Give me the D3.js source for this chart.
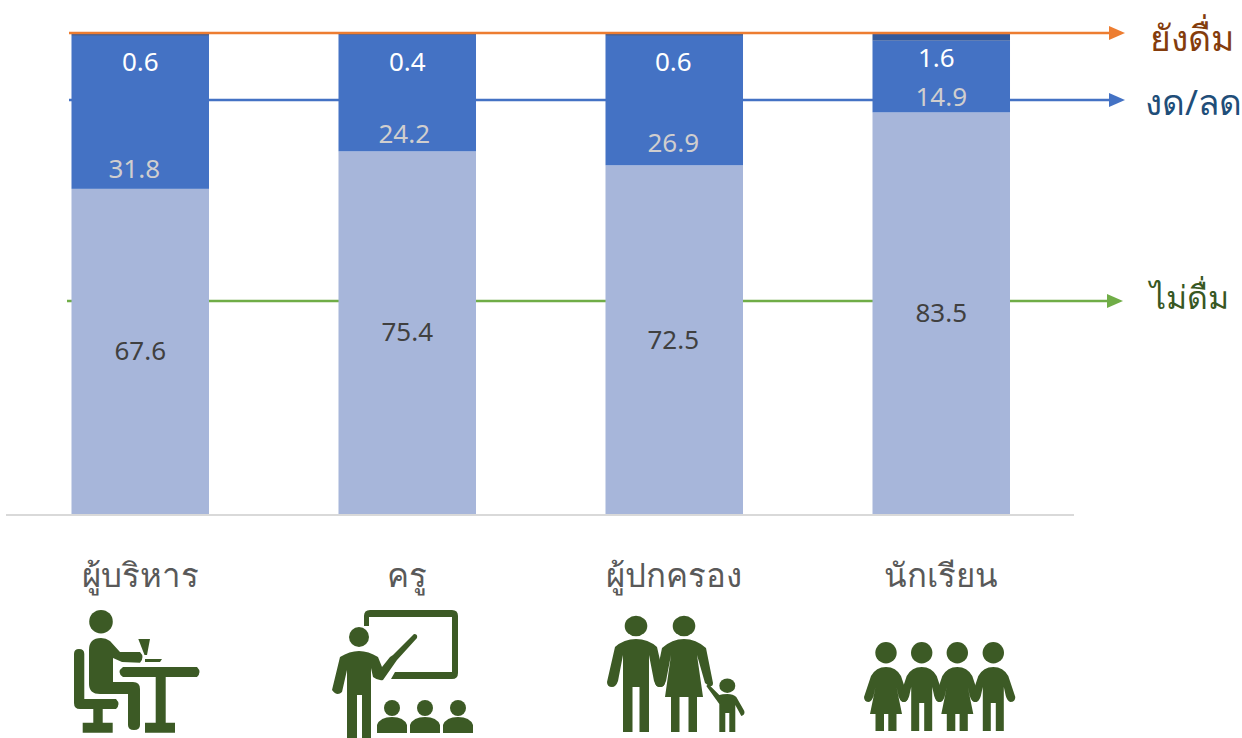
<!DOCTYPE html>
<html>
<head>
<meta charset="utf-8">
<script src="https://cdn.jsdelivr.net/npm/d3@7"></script>
<style>
  html, body { margin: 0; padding: 0; background: #fff; }
  text { font-family: "Noto Sans", "Open Sans", sans-serif; }
</style>
</head>
<body>
<div id="wrapper"></div>
<script>
// data
const categories = ['ผู้บริหาร', 'ครู', 'ผู้ปกครอง', 'นักเรียน']
const noDrink = [67.6, 75.4, 72.5, 83.5]
const reduced = [31.8, 24.2, 26.9, 14.9]
const stillDrink = [0.6, 0.4, 0.6, 1.6]
const seriesNames = ['ไม่ดื่ม', 'งด/ลด', 'ยังดื่ม']

const dimensions = { width: 1242, height: 738 }
const chart = { left: 6, right: 1074, top: 33, bottom: 514 }

const wrapper = d3.select('#wrapper').append('svg')
  .attr('width', dimensions.width)
  .attr('height', dimensions.height)
  .style('display', 'block')

// arrow heads
const defs = wrapper.append('defs')
const arrowColors = { orange: '#ed7d31', blue: '#4472c4', green: '#70ad47' }
Object.entries(arrowColors).forEach(([name, color]) => {
  defs.append('marker')
    .attr('id', 'arrow-' + name)
    .attr('viewBox', '0 0 16 14')
    .attr('refX', 0).attr('refY', 7)
    .attr('markerUnits', 'userSpaceOnUse')
    .attr('markerWidth', 16).attr('markerHeight', 14)
    .attr('orient', 'auto')
    .append('path').attr('d', 'M0,0L16,7L0,14Z').attr('fill', color)
})

// scales
const xScale = d3.scaleBand()
  .domain(categories)
  .range([chart.left, chart.right + 1.5])
  .paddingInner(0.485)
  .paddingOuter(0.2453)

const yScale = d3.scaleLinear()
  .domain([0, 100])
  .range([chart.bottom, chart.top])

const rows = categories.map((c, i) => ({
  category: c, noDrink: noDrink[i], reduced: reduced[i], stillDrink: stillDrink[i],
}))
const stack = d3.stack().keys(['noDrink', 'reduced', 'stillDrink'])
const layers = stack(rows)
const barColors = { noDrink: '#a7b6da', reduced: '#4472c4', stillDrink: '#345a9c' }

// the lines run behind the bars
const guides = [
  { x1: 69, x2: 1109, y: 33, color: 'orange' },
  { x1: 69, x2: 1109, y: 100, color: 'blue' },
  { x1: 67, x2: 1107, y: 301, color: 'green' },
]
const drawGuides = data => wrapper.append('g').selectAll('line').data(data).join('line')
  .attr('x1', d => d.x1).attr('x2', d => d.x2)
  .attr('y1', d => d.y).attr('y2', d => d.y)
  .attr('stroke', d => arrowColors[d.color])
  .attr('stroke-width', 2.5)
  .attr('marker-end', d => `url(#arrow-${d.color})`)

drawGuides(guides.slice(1))

// bars
wrapper.append('g').selectAll('g').data(layers).join('g')
  .attr('fill', d => barColors[d.key])
  .selectAll('rect').data(d => d).join('rect')
  .attr('x', d => xScale(d.data.category))
  .attr('y', d => yScale(d[1]))
  .attr('width', xScale.bandwidth())
  .attr('height', d => yScale(d[0]) - yScale(d[1]))

// orange line sits on top of the bars
drawGuides(guides.slice(0, 1))

// baseline
wrapper.append('line')
  .attr('x1', chart.left).attr('x2', chart.right)
  .attr('y1', chart.bottom + 1).attr('y2', chart.bottom + 1)
  .attr('stroke', '#d9d9d9').attr('stroke-width', 2)

// value labels, hand placed in the original
const labelY = {
  noDrink: [351, 332, 340, 313],
  reduced: [169, 134, 143, 97],
  stillDrink: [62, 62, 62, 58],
}
const labelDx = {
  noDrink: [0, 0, -1, 0],
  reduced: [-6, -3, -1, 0],
  stillDrink: [0, 0, -1, -5],
}
const labelColor = { noDrink: '#404040', reduced: '#d0cece', stillDrink: '#ffffff' }
const labelFormat = d3.format('.1f')
layers.forEach(layer => {
  wrapper.append('g').selectAll('text').data(layer).join('text')
    .attr('x', (d, i) => xScale(d.data.category) + xScale.bandwidth() / 2 + labelDx[layer.key][i])
    .attr('y', (d, i) => labelY[layer.key][i])
    .attr('dy', '0.35em')
    .attr('text-anchor', 'middle')
    .attr('font-size', 26)
    .attr('fill', labelColor[layer.key])
    .text(d => labelFormat(d[1] - d[0]))
})

// category names
wrapper.append('g').selectAll('text').data(categories).join('text')
  .attr('x', d => xScale(d) + xScale.bandwidth() / 2)
  .attr('y', 587)
  .attr('text-anchor', 'middle')
  .attr('font-size', 33)
  .attr('fill', '#595959')
  .text(d => d)

// series names at the arrow ends
const seriesLabels = [
  { name: seriesNames[2], x: 1150, y: 51, size: 35.5, color: '#843c0c' },
  { name: seriesNames[1], x: 1145, y: 115, size: 35, color: '#1f4e79' },
  { name: seriesNames[0], x: 1150, y: 309, size: 32, color: '#385723' },
]
wrapper.append('g').selectAll('text').data(seriesLabels).join('text')
  .attr('x', d => d.x).attr('y', d => d.y)
  .attr('font-size', d => d.size)
  .attr('fill', d => d.color)
  .text(d => d.name)

// icons, drawn in page pixels
const iconColor = '#3c5a25'
const icons = wrapper.append('g').attr('fill', iconColor)

const figure = (cx, top, d) => icons.append('path')
  .attr('transform', `translate(${cx},${top})`)
  .attr('d', d)
const head = (cx, cy, rx, ry) => icons.append('ellipse')
  .attr('cx', cx).attr('cy', cy).attr('rx', rx).attr('ry', ry)

// figure outlines, relative to the top of the shoulders
const manBody = 'M0,0 Q12,0 21,8 L29,43 Q29,48 24,48 Q20,48 18,42 L13,16 L13,93 L3.5,93 L3.5,48 L-3.5,48 L-3.5,93 L-13,93 L-13,16 L-18,42 Q-20,48 -24,48 Q-29,48 -29,43 L-21,8 Q-12,0 0,0Z'
const womanBody = 'M0,0 Q12,0 22,9 L29,44 Q29,48 25,47 L21,44 L13,16 L19,58 L13,58 L13,93 L4.5,93 L4.5,58 L-4.5,58 L-4.5,93 L-13,93 L-13,58 L-19,58 L-13,16 L-18,42 Q-20,48 -24,48 Q-29,48 -29,43 L-22,9 Q-12,0 0,0Z'
const childBody = 'M0,0 Q6,0 9,3 L17,17 Q18,21 14,22 L8,11 L8,38 L2,38 L2,19 L-2,19 L-2,38 L-8,38 L-8,10 L-21,-8 L-19,-10 L-8,1 Q-5,0 0,0Z'
const boyBody = 'M0,0 Q10,0 15,9 L22,30 Q22,35 17,35 Q14,34 12.5,29 L10.5,20 L10.5,64 L2.5,64 L2.5,36 L-2.5,36 L-2.5,64 L-10.5,64 L-10.5,20 L-12.5,29 Q-14,34 -17,35 Q-22,35 -22,30 L-15,9 Q-10,0 0,0Z'
const girlBody = 'M0,0 Q10,0 15,9 L22,30 Q22,35 17,35 Q14,34 12.5,29 L10.5,20 L16,47 L10.5,47 L10.5,64 L2.3,64 L2.3,47 L-2,47 L-2,64 L-10.5,64 L-10.5,47 L-16,47 L-10.5,20 L-12.5,29 Q-14,34 -17,35 Q-22,35 -22,30 L-15,9 Q-10,0 0,0Z'

// ผู้บริหาร: person at a table
head(101, 621.7, 11.8, 11.8)
icons.append('path').attr('d', 'M89,650 Q89,638 101,638 Q106,638 110,641 L120,652 L140,652 Q145,657 140,662.7 L122,662 L113,658 L113,682 L133,682 Q140,682 140,689 L140,725 Q140,730 134,730 Q128,730 128,725 L128,694 L100,694 Q89,694 89,684Z')
icons.append('path').attr('d', 'M79,649 Q84.3,649 84.3,654 L84.3,699 L116,699 Q121,704 116,709 L102.7,709 L102.7,722.7 L112.7,722.7 L112.7,732.7 L82.7,732.7 L82.7,722.7 L93.3,722.7 L93.3,709 L80,709 Q74,709 74,703 L74,654 Q74,649 79,649Z')
icons.append('path').attr('d', 'M123,667 L197,667 Q202,672 197,677 L165.7,677 L165.7,722.7 L175,722.7 L175,732.7 L145,732.7 L145,722.7 L155.7,722.7 L155.7,677 L123,677 Q116,672 123,667Z')
icons.append('path').attr('d', 'M138.3,639 L150,639 L147,655 L144.5,655Z')
icons.append('path').attr('d', 'M145,659 L162,659 L160,662 L145,662Z')

// ครู: teacher and board
icons.append('path').attr('d', 'M364,626 L364,616 Q364,610 370,610 L452,610 Q458,610 458,616 L458,673 Q458,679 452,679 L391,679 L395,672 L452,672 L452,617 L369,617 L369,626Z')
head(359, 637, 10, 10)
icons.append('path').attr('d', 'M340,657 Q359,645 378,657 L382,667 L390,657 L393,655 L414,634 Q418,634 417,638 L397,660 L383,680 Q378,681 373,677 L371,668 L371,738 L362,738 L362,695 L357,695 L357,738 L347,738 L347,670 L342,692 Q337,697 332,690Z')
const studentX = [392, 425, 458]
studentX.forEach(x => {
  head(x, 708, 8, 8)
  figure(x, 717, 'M0,0 Q12,0 15,8 L15,16 L-15,16 L-15,8 Q-12,0 0,0Z')
})

// ผู้ปกครอง: two adults and a child
head(636, 626, 11.3, 10.3)
head(684, 626, 11.3, 10.3)
head(727.3, 685.7, 8, 7.3)
figure(636, 639, manBody)
figure(684, 639, womanBody)
figure(727.3, 694, childBody)

// นักเรียน: four children
const studentHeads = [886, 921.7, 957.3, 993.3]
studentHeads.forEach((x, i) => {
  head(x, 652.7, 10.7, 10.7)
  figure(x, 667, i % 2 === 0 ? girlBody : boyBody)
})
</script>
</body>
</html>
